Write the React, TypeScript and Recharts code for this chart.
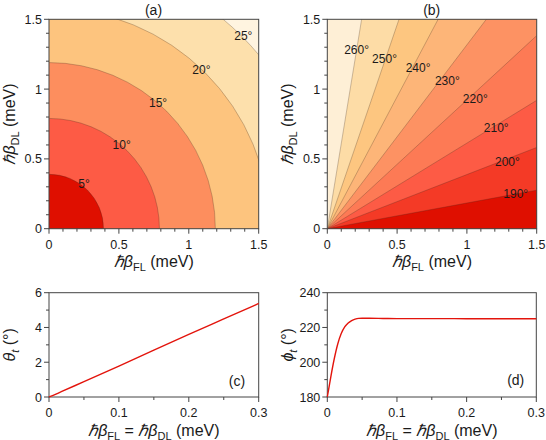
import React from 'react';
import { ComposedChart, LineChart, Line, XAxis, YAxis, ReferenceArea, ReferenceDot } from 'recharts';

const FONT = '"Liberation Sans", Arial, Helvetica, sans-serif';
const INK = '#1a1a1a';
const AXIS = '#444';
const CONTOUR = 'rgba(60,40,30,0.45)';
const RED = '#e3140c';

// (a) theta_t contours: quarter circles, radius in meV
const thetaLevels = ['5°', '10°', '15°', '20°', '25°'];
const thetaRadii = [0.39, 0.79, 1.19, 1.58, 1.95];
const thetaFills = ['#df0f00', '#fd5b45', '#fd8e5e', '#fdc47e', '#fde0ac', '#fff4e0']; // inner -> outer
const thetaLabelX = [0.25, 0.52, 0.78, 1.09, 1.39];
const thetaLabelY = [0.32, 0.6, 0.9, 1.14, 1.38];

// (b) phi_t contours: rays from the origin, slope = betaDL / betaFL
const phiLevels = ['190°', '200°', '210°', '220°', '230°', '240°', '250°', '260°'];
const phiSlopes = [0.184, 0.388, 0.613, 0.922, 1.317, 1.89, 2.92, 6.1];
const phiFills = ['#df0f00', '#f43a26', '#fd5b45', '#fd7a55', '#fd9263', '#fdb578', '#fdc680', '#fddca6', '#feefd6']; // below 190 -> above 260
const phiLabelX = [1.35, 1.29, 1.21, 1.06, 0.86, 0.65, 0.41, 0.21];
const phiLabelY = [0.25, 0.48, 0.72, 0.93, 1.06, 1.15, 1.22, 1.28];

// (c) theta_t vs beta
const cX = [0, 0.01, 0.02, 0.05, 0.1, 0.15, 0.2, 0.25, 0.3];
const thetaT = [0, 0.17, 0.35, 0.88, 1.78, 2.7, 3.6, 4.49, 5.38];

// (d) phi_t vs beta
const dX = [0, 0.002, 0.005, 0.01, 0.015, 0.02, 0.025, 0.03, 0.035, 0.04, 0.045, 0.05, 0.06, 0.08, 0.1, 0.15, 0.2, 0.25, 0.3];
const phiT = [180, 184.5, 191.5, 202, 210.5, 216.5, 220.3, 222.6, 224, 224.8, 225.2, 225.3, 225.3, 225.2, 225.1, 225.1, 225.05, 225, 225];

// ticks
const mapTicks = [0, 0.1, 0.2, 0.3, 0.4, 0.5, 0.6, 0.7, 0.8, 0.9, 1, 1.1, 1.2, 1.3, 1.4, 1.5];
const mapMajor = [0, 0.5, 1, 1.5];
const lineTicksX = [0, 0.05, 0.1, 0.15, 0.2, 0.25, 0.3];
const lineMajorX = [0, 0.1, 0.2, 0.3];
const cTicksY = [0, 1, 2, 3, 4, 5, 6];
const cMajorY = [0, 2, 4, 6];
const dTicksY = [180, 190, 200, 210, 220, 230, 240];
const dMajorY = [180, 200, 220, 240];

type Seg = { t: string; it?: boolean; sub?: boolean };
const titleFL: Seg[] = [{ t: 'ℏ', it: true }, { t: 'β', it: true }, { t: 'FL', sub: true }, { t: ' (meV)' }];
const titleDL: Seg[] = [{ t: 'ℏ', it: true }, { t: 'β', it: true }, { t: 'DL', sub: true }, { t: ' (meV)' }];
const titleBoth: Seg[] = [
  { t: 'ℏ', it: true }, { t: 'β', it: true }, { t: 'FL', sub: true },
  { t: ' = ' }, { t: 'ℏ', it: true }, { t: 'β', it: true }, { t: 'DL', sub: true }, { t: ' (meV)' },
];
const titleTheta: Seg[] = [{ t: 'θ', it: true }, { t: 't', it: true, sub: true }, { t: ' (°)' }];
const titlePhi: Seg[] = [{ t: 'ϕ', it: true }, { t: 't', it: true, sub: true }, { t: ' (°)' }];

function Rich({ segs }: { segs: Seg[] }) {
  let down = false;
  return (
    <>
      {segs.map((s, i) => {
        let dy: number | undefined;
        if (s.sub && !down) { dy = 4; down = true; }
        else if (!s.sub && down) { dy = -4; down = false; }
        return (
          <tspan key={i} dy={dy} fontStyle={s.it ? 'italic' : undefined} fontSize={s.sub ? 11 : undefined}>
            {s.t}
          </tspan>
        );
      })}
    </>
  );
}

const fmt = (v: number) => String(v);

function BottomTick(props: any) {
  const { x, y, payload, major } = props;
  const isMajor = major.includes(payload.value);
  return (
    <g>
      <line x1={x} y1={y} x2={x} y2={y + (isMajor ? 5 : 3)} stroke={AXIS} />
      {isMajor && (
        <text x={x} y={y + 20} textAnchor="middle" fontSize={12.5} fill={INK}>{fmt(payload.value)}</text>
      )}
    </g>
  );
}

function LeftTick(props: any) {
  const { x, y, payload, major } = props;
  const isMajor = major.includes(payload.value);
  return (
    <g>
      <line x1={x - (isMajor ? 5 : 3)} y1={y} x2={x} y2={y} stroke={AXIS} />
      {isMajor && (
        <text x={x - 7} y={y} dy="0.36em" textAnchor="end" fontSize={12.5} fill={INK}>{fmt(payload.value)}</text>
      )}
    </g>
  );
}

const xTitle = (segs: Seg[]) => (p: any) => {
  const vb = p.viewBox;
  return (
    <text x={vb.x + vb.width / 2} y={vb.y + 38.5} textAnchor="middle" fontSize={16} fill={INK}>
      <Rich segs={segs} />
    </text>
  );
};

const yTitle = (segs: Seg[]) => (p: any) => {
  const vb = p.viewBox;
  const cx = vb.x + vb.width - 34;
  const cy = vb.y + vb.height / 2;
  return (
    <text x={cx} y={cy} transform={`rotate(-90 ${cx} ${cy})`} textAnchor="middle" fontSize={16} fill={INK}>
      <Rich segs={segs} />
    </text>
  );
};

function Fill(p: any) {
  return <rect x={p.x} y={p.y} width={p.width} height={p.height} fill={p.fill} />;
}

function Frame(p: any) {
  return <rect x={p.x} y={p.y} width={p.width} height={p.height} fill="none" stroke={AXIS} strokeWidth={1} />;
}

function QuarterDisk(p: any) {
  const { x, y, width: w, height: h, fill, clipPath } = p;
  const arc = `A${w},${h} 0 0 0 ${x},${y}`;
  return (
    <g clipPath={clipPath}>
      <path d={`M${x},${y + h} L${x + w},${y + h} ${arc} Z`} fill={fill} />
      <path d={`M${x + w},${y + h} ${arc}`} fill="none" stroke={CONTOUR} strokeWidth={0.6} />
    </g>
  );
}

function Wedge(p: any) {
  const { x, y, width: w, height: h, fill, clipPath } = p;
  return (
    <g clipPath={clipPath}>
      <path d={`M${x},${y + h} L${x + w},${y + h} L${x + w},${y} Z`} fill={fill} />
      <path d={`M${x},${y + h} L${x + w},${y}`} fill="none" stroke={CONTOUR} strokeWidth={0.6} />
    </g>
  );
}

function contourLabel(text: string) {
  return { value: text, position: 'center' as const, fill: INK, fontSize: 12 };
}

const cData = cX.map((x, i) => ({ x, y: thetaT[i] }));
const dData = dX.map((x, i) => ({ x, y: phiT[i] }));

const tag = (left: number, top: number): React.CSSProperties => ({
  position: 'absolute',
  left,
  top,
  transform: 'translate(-50%, -50%)',
  fontSize: 14,
  color: INK,
  lineHeight: 1,
  whiteSpace: 'nowrap',
});

export default function App() {
  const mapX = (
    <XAxis
      type="number"
      dataKey="x"
      domain={[0, 1.5]}
      ticks={mapTicks}
      interval={0}
      allowDataOverflow
      height={44.3}
      tickSize={0}
      tickMargin={0}
      tickLine={false}
      axisLine={false}
      tick={(p: any) => <BottomTick {...p} major={mapMajor} />}
      label={xTitle(titleFL)}
    />
  );

  return (
    <div style={{ position: 'absolute', left: 0, top: 0, width: 546, height: 440, background: '#fff', fontFamily: FONT }}>
      <div style={{ position: 'absolute', left: 0, top: 0 }}>
        <ComposedChart width={273} height={273} data={[]} margin={{ top: 19.3, right: 14.3, left: 0, bottom: 0 }}>
          {mapX}
          <YAxis
            type="number"
            domain={[0, 1.5]}
            ticks={mapTicks}
            interval={0}
            allowDataOverflow
            width={49}
            tickSize={0}
            tickMargin={0}
            tickLine={false}
            axisLine={false}
            tick={(p: any) => <LeftTick {...p} major={mapMajor} />}
            label={yTitle(titleDL)}
          />
          <ReferenceArea x1={0} x2={1.5} y1={0} y2={1.5} fill={thetaFills[5]} shape={Fill} />
          {[4, 3, 2, 1, 0].map((i) => (
            <ReferenceArea
              key={i}
              x1={0}
              x2={thetaRadii[i]}
              y1={0}
              y2={thetaRadii[i]}
              ifOverflow="hidden"
              fill={thetaFills[i]}
              shape={QuarterDisk}
            />
          ))}
          {thetaLevels.map((t, i) => (
            <ReferenceDot key={t} x={thetaLabelX[i]} y={thetaLabelY[i]} r={0} fill="none" stroke="none" label={contourLabel(t)} />
          ))}
          <ReferenceArea x1={0} x2={1.5} y1={0} y2={1.5} shape={Frame} />
        </ComposedChart>
      </div>

      <div style={{ position: 'absolute', left: 278, top: 0 }}>
        <ComposedChart width={268} height={273} data={[]} margin={{ top: 19.3, right: 9.3, left: 0, bottom: 0 }}>
          {mapX}
          <YAxis
            type="number"
            domain={[0, 1.5]}
            ticks={mapTicks}
            interval={0}
            allowDataOverflow
            width={49.3}
            tickSize={0}
            tickMargin={0}
            tickLine={false}
            axisLine={false}
            tick={(p: any) => <LeftTick {...p} major={mapMajor} />}
            label={yTitle(titleDL)}
          />
          <ReferenceArea x1={0} x2={1.5} y1={0} y2={1.5} fill={phiFills[8]} shape={Fill} />
          {[7, 6, 5, 4, 3, 2, 1, 0].map((i) => (
            <ReferenceArea
              key={i}
              x1={0}
              x2={1.5}
              y1={0}
              y2={1.5 * phiSlopes[i]}
              ifOverflow="hidden"
              fill={phiFills[i]}
              shape={Wedge}
            />
          ))}
          {phiLevels.map((t, i) => (
            <ReferenceDot key={t} x={phiLabelX[i]} y={phiLabelY[i]} r={0} fill="none" stroke="none" label={contourLabel(t)} />
          ))}
          <ReferenceArea x1={0} x2={1.5} y1={0} y2={1.5} shape={Frame} />
        </ComposedChart>
      </div>

      <div style={{ position: 'absolute', left: 0, top: 273 }}>
        <LineChart width={273} height={167} data={cData} margin={{ top: 19.7, right: 14.3, left: 0, bottom: 0 }}>
          <XAxis
            type="number"
            dataKey="x"
            domain={[0, 0.3]}
            ticks={lineTicksX}
            interval={0}
            height={43}
            tickSize={0}
            tickMargin={0}
            tickLine={false}
            axisLine={false}
            tick={(p: any) => <BottomTick {...p} major={lineMajorX} />}
            label={xTitle(titleBoth)}
          />
          <YAxis
            type="number"
            domain={[0, 6]}
            ticks={cTicksY}
            interval={0}
            width={49}
            tickSize={0}
            tickMargin={0}
            tickLine={false}
            axisLine={false}
            tick={(p: any) => <LeftTick {...p} major={cMajorY} />}
            label={yTitle(titleTheta)}
          />
          <ReferenceArea x1={0} x2={0.3} y1={0} y2={6} shape={Frame} />
          <Line type="monotone" dataKey="y" stroke={RED} strokeWidth={1.4} dot={false} isAnimationActive={false} />
        </LineChart>
      </div>

      <div style={{ position: 'absolute', left: 278, top: 273 }}>
        <LineChart width={268} height={167} data={dData} margin={{ top: 19.7, right: 9.7, left: 0, bottom: 0 }}>
          <XAxis
            type="number"
            dataKey="x"
            domain={[0, 0.3]}
            ticks={lineTicksX}
            interval={0}
            height={43}
            tickSize={0}
            tickMargin={0}
            tickLine={false}
            axisLine={false}
            tick={(p: any) => <BottomTick {...p} major={lineMajorX} />}
            label={xTitle(titleBoth)}
          />
          <YAxis
            type="number"
            domain={[180, 240]}
            ticks={dTicksY}
            interval={0}
            width={49.3}
            tickSize={0}
            tickMargin={0}
            tickLine={false}
            axisLine={false}
            tick={(p: any) => <LeftTick {...p} major={dMajorY} />}
            label={yTitle(titlePhi)}
          />
          <ReferenceArea x1={0} x2={0.3} y1={180} y2={240} shape={Frame} />
          <Line type="monotone" dataKey="y" stroke={RED} strokeWidth={1.4} dot={false} isAnimationActive={false} />
        </LineChart>
      </div>

      <div style={tag(153.5, 10)}>(a)</div>
      <div style={tag(431.7, 10)}>(b)</div>
      <div style={tag(237, 381)}>(c)</div>
      <div style={tag(515.7, 380)}>(d)</div>
    </div>
  );
}
